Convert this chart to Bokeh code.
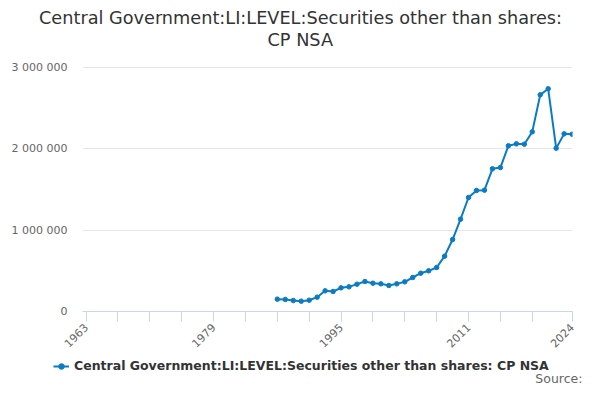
import math
from bokeh.plotting import figure
from bokeh.layouts import column
from bokeh.models import (ColumnDataSource, FixedTicker, Label, Legend, LegendItem, Title)
from bokeh.embed import file_html
from bokeh.resources import INLINE

# ---- data ----
years = list(range(1987, 2025))
values = [152000, 148000, 135000, 127000, 139000, 176000, 254000, 246000, 291000, 303000,
          336000, 369000, 348000, 340000, 320000, 340000, 365000, 418000, 471000, 500000,
          541000, 680000, 885000, 1135000, 1402000, 1488000, 1492000, 1754000, 1770000, 2037000,
          2061000, 2057000, 2209000, 2664000, 2738000, 2008000, 2184000, 2180000]
series_name = "Central Government:LI:LEVEL:Securities other than shares: CP NSA"
title_line1 = "Central Government:LI:LEVEL:Securities other than shares:"
title_line2 = "CP NSA"
source_text = "Source:"
x_ticks = [1963, 1967, 1971, 1975, 1979, 1983, 1987, 1991, 1995, 1999, 2003, 2007, 2011, 2015, 2019, 2024]
x_labelled = [1963, 1979, 1995, 2011, 2024]
y_ticks = [0, 1000000, 2000000, 3000000]
y_tick_labels = ["0", "1 000 000", "2 000 000", "3 000 000"]

COLOR = "#0b7bc4"
FONT = "DejaVu Sans"

# frame is 262 px tall; 3 000 000 sits 244 px above the baseline
Y_TOP = 3000000 * 262 / 244

p = figure(width=584, height=355, output_backend="svg", toolbar_location=None,
           x_range=(1962.55, 2024.05), y_range=(0, Y_TOP),
           min_border_left=82, min_border_right=12, min_border_top=49, min_border_bottom=44)
p.outline_line_color = None
p.background_fill_color = "white"
p.border_fill_color = "white"
try:
    p.frame_align = False
except Exception:
    pass

src = ColumnDataSource(dict(x=years, y=values))
ln = p.line("x", "y", source=src, line_color=COLOR, line_width=2)
sc = p.scatter("x", "y", source=src, size=4.5, fill_color=COLOR, line_color=COLOR)

# x axis
xa = p.xaxis[0]
xa.ticker = FixedTicker(ticks=x_ticks)
xa.major_label_overrides = {t: (str(t) if t in x_labelled else "") for t in x_ticks}
xa.axis_line_color = "#ccd6eb"
xa.major_tick_line_color = "#ccd6eb"
xa.major_tick_out = 10
xa.major_tick_in = 0
xa.minor_tick_line_color = None
xa.major_label_orientation = math.pi / 4
xa.major_label_text_font = FONT
xa.major_label_text_font_size = "11px"
xa.major_label_text_color = "#666666"
xa.major_label_standoff = 4
p.xgrid.grid_line_color = None

# y axis
ya = p.yaxis[0]
ya.ticker = FixedTicker(ticks=y_ticks)
ya.major_label_overrides = {t: l for t, l in zip(y_ticks, y_tick_labels)}
ya.axis_line_color = None
ya.major_tick_line_color = None
ya.minor_tick_line_color = None
ya.major_tick_out = 0
ya.major_tick_in = 0
ya.major_label_standoff = 15
ya.major_label_text_font = FONT
ya.major_label_text_font_size = "11px"
ya.major_label_text_color = "#666666"
p.ygrid.grid_line_color = "#e6e6e6"
p.ygrid.ticker = FixedTicker(ticks=y_ticks)

# title (p.title is the outer line, the added Title sits next to the frame)
p.title.text = title_line1
p.title.align = "left"
p.title.offset = -43.5
p.title.text_font = FONT
p.title.text_font_size = "17.7px"
p.title.text_font_style = "normal"
p.title.text_color = "#333333"
p.title.standoff = 0
p.add_layout(Title(text=title_line2, align="left", offset=185, text_font=FONT,
                   text_font_size="17.7px", text_font_style="normal",
                   text_color="#333333", standoff=0), "above")

# ---- legend / source strip below ----
p2 = figure(width=584, height=29, output_backend="svg", toolbar_location=None,
            x_range=(0, 1), y_range=(0, 1), x_axis_location=None, y_axis_location=None,
            min_border_left=0, min_border_right=0, min_border_top=0, min_border_bottom=0)
p2.outline_line_color = None
p2.grid.visible = False
p2.border_fill_color = "white"
try:
    p2.frame_align = False
except Exception:
    pass
src2 = ColumnDataSource(dict(x=years, y=values))
ln2 = p2.line("x", "y", source=src2, line_color=COLOR, line_width=2)
sc2 = p2.scatter("x", "y", source=src2, size=4.5, fill_color=COLOR, line_color=COLOR)

legend = Legend(items=[LegendItem(label=series_name, renderers=[ln2, sc2])],
                location=(53, 11), orientation="horizontal",
                label_text_font=FONT, label_text_font_size="12.5px",
                label_text_font_style="bold", label_text_color="#333333",
                glyph_width=16, glyph_height=14, label_standoff=5, label_height=14,
                padding=0, margin=0, border_line_color=None,
                background_fill_alpha=0)
p2.add_layout(legend, "center")

p2.add_layout(Label(x=582, y=6, x_units="screen", y_units="screen", text=source_text,
                    text_align="right", text_baseline="middle", text_font=FONT,
                    text_font_size="12.5px", text_color="#666666"))

layout = column(p, p2, spacing=0)
open("out.html", "w").write(file_html(layout, INLINE))
